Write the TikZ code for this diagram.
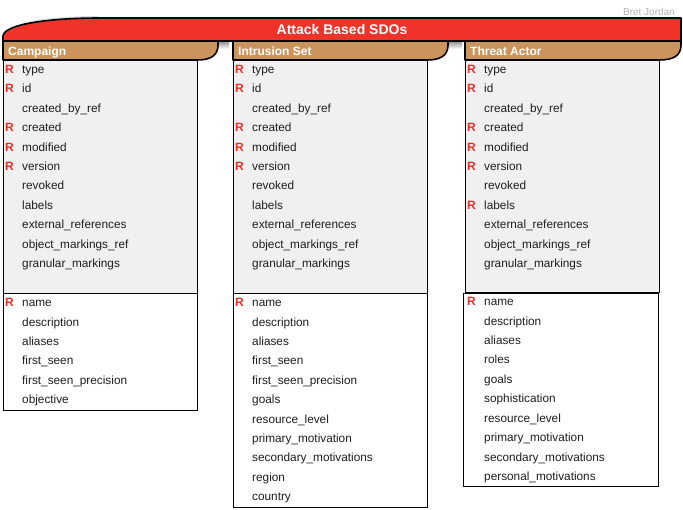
\documentclass[tikz,border=0pt]{standalone}
\usepackage{fontspec}
\setmainfont{Liberation Sans}
\definecolor{bannerred}{RGB}{240,50,40}
\definecolor{hdrtan}{RGB}{202,148,92}
\definecolor{bodygray}{RGB}{240,240,240}
\definecolor{rred}{RGB}{232,48,40}
\definecolor{txt}{RGB}{30,30,30}
\tikzset{
  row/.style={anchor=base west, inner sep=0pt, font=\fontsize{11.8}{14}\selectfont, text=txt},
  req/.style={anchor=base west, inner sep=0pt, font=\bfseries\fontsize{12}{14}\selectfont, text=rred},
  hdr/.style={fill=hdrtan, draw=black, line width=1.6pt, line join=round},
  ttl/.style={anchor=base west, inner sep=0pt, font=\bfseries\fontsize{12}{14}\selectfont, text=white},
  upbox/.style={fill=bodygray, draw=black, line width=0.9pt},
  lowbox/.style={fill=white, draw=black, line width=0.9pt},
  shadow/.style={top color=black!45, bottom color=white},
}
\begin{document}
\begin{tikzpicture}[x=1pt,y=-1pt]
\useasboundingbox (0,0) rectangle (683,510);
% author
\node[anchor=base east, inner sep=0pt, font=\fontsize{10}{11}\selectfont, text=black!30] (author) at (675,16) {Bret Jordan};

% ---------- Campaign ----------
\shade[shadow] (212,41) rectangle (229,49);
\draw[upbox] (3,60) rectangle (197,293);
\draw[lowbox] (3,293) rectangle (197,410);
\draw[hdr] (3,41) -- (218,41) -- (218,45) .. controls (218,56) and (210,60) .. (197,60) -- (3,60) -- cycle;
\node[ttl] (campaign) at (8,55.5) {Campaign};
\foreach \t [count=\i] in {type,id,created\_by\_ref,created,modified,version,revoked,labels,external\_references,object\_markings\_ref,granular\_markings}
  \node[row] (ca\i) at (22,{73.5+19.4*(\i-1)}) {\t};
\foreach \i in {1,2,4,5,6}
  \node[req] (car\i) at (5,{73.5+19.4*(\i-1)}) {R};
\foreach \t [count=\i] in {name,description,aliases,first\_seen,first\_seen\_precision,objective}
  \node[row] (cb\i) at (22,{306.8+19.4*(\i-1)}) {\t};
\node[req] (cbr1) at (5,306.8) {R};

% ---------- Intrusion Set ----------
\shade[shadow] (442,41) rectangle (462,49);
\draw[upbox] (233,60) rectangle (427,293);
\draw[lowbox] (233,293) rectangle (427,507);
\draw[hdr] (233,41) -- (448,41) -- (448,45) .. controls (448,56) and (440,60) .. (427,60) -- (233,60) -- cycle;
\node[ttl] (intrusion) at (238,55.5) {Intrusion Set};
\foreach \t [count=\i] in {type,id,created\_by\_ref,created,modified,version,revoked,labels,external\_references,object\_markings\_ref,granular\_markings}
  \node[row] (ia\i) at (252,{73.5+19.4*(\i-1)}) {\t};
\foreach \i in {1,2,4,5,6}
  \node[req] (iar\i) at (235,{73.5+19.4*(\i-1)}) {R};
\foreach \t [count=\i] in {name,description,aliases,first\_seen,first\_seen\_precision,goals,resource\_level,primary\_motivation,secondary\_motivations,region,country}
  \node[row] (ib\i) at (252,{306.8+19.4*(\i-1)}) {\t};
\node[req] (ibr1) at (235,306.8) {R};

% ---------- Threat Actor ----------
\draw[upbox] (465,60) rectangle (659,292);
\draw[lowbox] (463,293) rectangle (658,486);
\draw[hdr] (465,41) -- (681,41) -- (681,45) .. controls (681,56) and (673,60) .. (659,60) -- (465,60) -- cycle;
\node[ttl] (threat) at (470,55.5) {Threat Actor};
\foreach \t [count=\i] in {type,id,created\_by\_ref,created,modified,version,revoked,labels,external\_references,object\_markings\_ref,granular\_markings}
  \node[row] (ta\i) at (484,{73.5+19.4*(\i-1)}) {\t};
\foreach \i in {1,2,4,5,6,8}
  \node[req] (tar\i) at (467,{73.5+19.4*(\i-1)}) {R};
\foreach \t [count=\i] in {name,description,aliases,roles,goals,sophistication,resource\_level,primary\_motivation,secondary\_motivations,personal\_motivations}
  \node[row] (tb\i) at (484,{305.8+19.4*(\i-1)}) {\t};
\node[req] (tbr1) at (467,305.8) {R};

% ---------- Banner ----------
\draw[fill=black!15, draw=none] (8,30) .. controls (20,20) and (60,16) .. (98,16) -- (98,18) .. controls (60,18) and (20,22) .. (8,30) -- cycle;
\draw[fill=bannerred, draw=black, line width=1.6pt, line join=round]
  (3,41) -- (3,36) .. controls (4,24) and (50,18) .. (100,18) -- (681,18) -- (681,41) -- cycle;
\node[anchor=base, inner sep=0pt, font=\bfseries\fontsize{14}{16}\selectfont, text=white] (banner) at (342,35) {Attack Based SDOs};
\end{tikzpicture}
\end{document}
